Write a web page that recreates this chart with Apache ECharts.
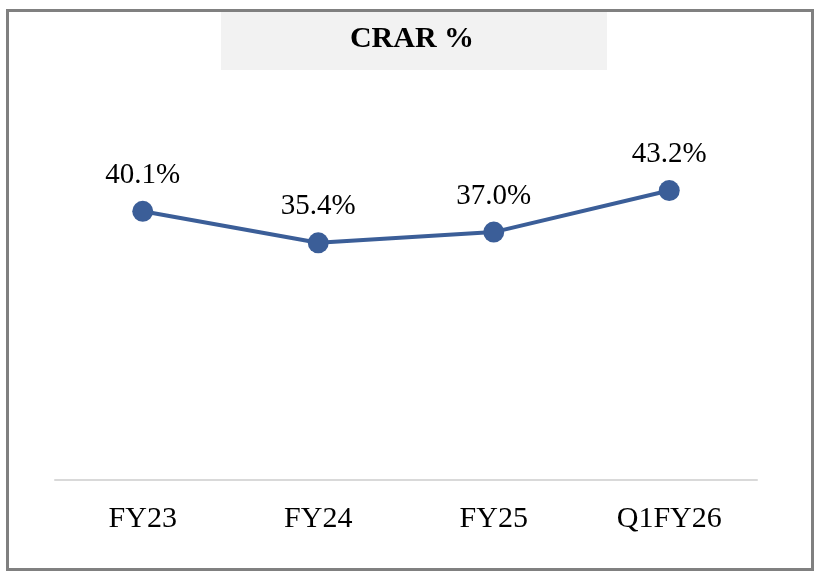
<!DOCTYPE html>
<html>
<head>
<meta charset="utf-8">
<script src="https://cdn.jsdelivr.net/npm/echarts@6/dist/echarts.min.js"></script>
<style>
  html, body { margin: 0; padding: 0; background: #fff; }
  #chart { width: 819px; height: 576px; }
</style>
</head>
<body>
<div id="chart"></div>
<script>
// data
var categories = ['FY23', 'FY24', 'FY25', 'Q1FY26'];
var crarValues = [40.1, 35.4, 37.0, 43.2];

var lineColor = '#3b5e98';
var serif = '"Liberation Serif", "DejaVu Serif", serif';

var myChart = echarts.init(document.getElementById('chart'));

var option = {
  backgroundColor: '#fff',
  animation: false,
  title: {
    text: 'CRAR %',
    left: 412,
    top: 24,
    textAlign: 'center',
    padding: 0,
    textStyle: {
      fontFamily: serif,
      fontWeight: 'bold',
      fontSize: 30,
      lineHeight: 30,
      color: '#000'
    }
  },
  graphic: [{
    type: 'rect',
    z: -1,
    shape: { x: 7.5, y: 10.5, width: 805, height: 559 },
    style: { fill: 'none', stroke: '#808080', lineWidth: 3 }
  }, {
    type: 'rect',
    z: -1,
    shape: { x: 221, y: 12, width: 386, height: 58 },
    style: { fill: '#f2f2f2' }
  }],
  grid: {
    left: 55,
    right: 62,
    top: 145,
    bottom: 96
  },
  xAxis: {
    type: 'category',
    data: categories,
    boundaryGap: true,
    axisLine: { lineStyle: { color: '#d9d9d9', width: 2 } },
    axisTick: { show: false },
    axisLabel: {
      margin: 24,
      fontFamily: serif,
      fontSize: 30,
      color: '#000'
    }
  },
  yAxis: {
    type: 'value',
    min: 0,
    max: 50,
    show: false,
    splitLine: { show: false }
  },
  series: [{
    name: 'CRAR',
    type: 'line',
    data: crarValues,
    symbol: 'circle',
    symbolSize: 21,
    lineStyle: { color: lineColor, width: 4 },
    itemStyle: { color: lineColor },
    label: {
      show: true,
      position: 'top',
      distance: 11,
      fontFamily: serif,
      fontSize: 29,
      color: '#000',
      formatter: function (p) {
        return p.value.toFixed(1) + '%';
      }
    }
  }]
};

myChart.setOption(option);
</script>
</body>
</html>
